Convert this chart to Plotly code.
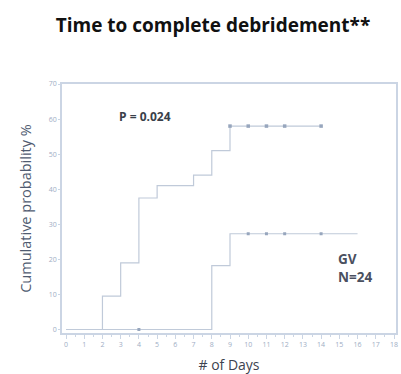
import plotly.graph_objects as go

# Group 1 (upper curve) KM step data
g1_days = [0, 2, 3, 4, 5, 7, 8, 9, 14]
g1_prob = [0, 9.5, 19, 37.5, 41, 44, 51, 58, 58]
g1_cens_days = [9, 10, 11, 12, 14]
g1_cens_prob = [58, 58, 58, 58, 58]

# GV group (lower curve)
gv_days = [0, 8, 9, 16]
gv_prob = [0, 18.2, 27.3, 27.3]
gv_cens_days = [4, 10, 11, 12, 14]
gv_cens_prob = [0, 27.3, 27.3, 27.3, 27.3]

x_ticks = list(range(0, 19))
y_ticks = [0, 10, 20, 30, 40, 50, 60, 70]

line_col = "#c0cad9"
mark_col = "#97a6bd"
axis_col = "#cbd5e4"
tick_col = "#9eadc4"

W, H = 401, 374
l, r, t, b = 62, 3, 84, 40
pw, ph = W - l - r, H - t - b


def px(x, y):
    return (x - l) / pw, 1 - (y - t) / ph


fig = go.Figure()
fig.add_trace(go.Scatter(x=g1_days, y=g1_prob, mode="lines", line_shape="hv",
                         line=dict(color=line_col, width=1.2), showlegend=False))
fig.add_trace(go.Scatter(x=gv_days, y=gv_prob, mode="lines", line_shape="hv",
                         line=dict(color=line_col, width=1.2), showlegend=False))
fig.add_trace(go.Scatter(x=g1_cens_days, y=g1_cens_prob, mode="markers",
                         marker=dict(symbol="square", size=3.5, color=mark_col), showlegend=False))
fig.add_trace(go.Scatter(x=gv_cens_days, y=gv_cens_prob, mode="markers",
                         marker=dict(symbol="square", size=3, color=mark_col), showlegend=False))

px_p = px(145, 117)
px_gv = px(338, 269)

fig.update_layout(
    width=W, height=H,
    margin=dict(l=l, r=r, t=t, b=b),
    paper_bgcolor="white", plot_bgcolor="white",
    title=dict(text="<b>Time to complete debridement**</b>", x=213 / W, xanchor="center",
               y=1 - 25 / H, yanchor="middle",
               font=dict(family="Open Sans", size=19, color="#111111")),
    font=dict(family="Open Sans"),
    annotations=[
        dict(text="<b>P = 0.024</b>", x=px_p[0], y=px_p[1], xref="paper", yref="paper",
             xanchor="center", yanchor="middle", showarrow=False,
             font=dict(size=12, color="#3a3f4a")),
        dict(text="<b>GV<br>N=24</b>", x=px_gv[0], y=px_gv[1], xref="paper", yref="paper",
             showarrow=False, align="left", xanchor="left", yanchor="middle",
             font=dict(size=13.5, color="#4a5060")),
    ],
)

fig.update_xaxes(range=[-0.22, 18.11], tickvals=x_ticks, ticktext=[str(v) for v in x_ticks],
                 showgrid=False, zeroline=False, showline=True, linecolor=axis_col, linewidth=1.5,
                 mirror=True, ticks="outside", ticklen=4, tickcolor=axis_col,
                 minor=dict(ticks="outside", ticklen=2, dtick=0.5, tickcolor=axis_col),
                 tickfont=dict(size=7, color=tick_col),
                 title=dict(text="# of Days", font=dict(size=14, color="#3d4350"), standoff=12))
fig.update_yaxes(range=[-1, 70], tickvals=y_ticks, ticktext=[str(v) for v in y_ticks],
                 showgrid=False, zeroline=False, showline=True, linecolor=axis_col, linewidth=1.5,
                 mirror=True, ticks="outside", ticklen=2, tickcolor=axis_col,
                 tickfont=dict(size=7, color=tick_col),
                 title=dict(text="Cumulative probability %", font=dict(size=14.5, color="#4f5b70"),
                            standoff=14))

fig.write_html("out.html")
